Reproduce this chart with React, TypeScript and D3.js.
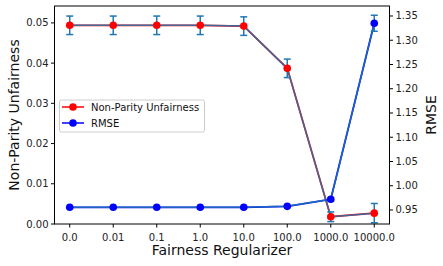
import * as d3 from "d3";

const categories = ["0.0", "0.01", "0.1", "1.0", "10.0", "100.0", "1000.0", "10000.0"];
const unfairness = [0.0494, 0.0494, 0.0494, 0.0494, 0.0492, 0.0387, 0.0018, 0.0027];
const unfairnessErr = [0.0023, 0.0023, 0.0023, 0.0023, 0.0023, 0.0023, 0.0012, 0.0024];
const rmse = [0.9555, 0.9555, 0.9555, 0.9555, 0.9555, 0.9575, 0.972, 1.335];
const rmseErr = [0.0005, 0.0005, 0.0005, 0.0005, 0.0005, 0.0008, 0.003, 0.0165];
const leftTicks = [0, 0.01, 0.02, 0.03, 0.04, 0.05];
const rightTicks = [0.95, 1.0, 1.05, 1.1, 1.15, 1.2, 1.25, 1.3, 1.35];

const C0 = "#1f77b4";
const font = "DejaVu Sans, sans-serif";

export default function App() {
  const width = 443;
  const height = 266;
  const m = { left: 54.5, right: 389.5, top: 6, bottom: 224 };

  const x = d3.scaleLinear().domain([-0.35, 7.35]).range([m.left, m.right]);
  const yL = d3.scaleLinear().domain([0, 0.0542]).range([m.bottom, m.top]);
  const yR = d3.scaleLinear().domain([0.9211, 1.3706]).range([m.bottom, m.top]);

  const line = (ys: number[], y: d3.ScaleLinear<number, number>) =>
    d3.line<number>().x((_, i) => x(i)).y((d) => y(d))(ys) || "";

  const series = (
    ys: number[],
    errs: number[],
    y: d3.ScaleLinear<number, number>,
    color: string
  ) => (
    <g>
      <path d={line(ys, y)} fill="none" stroke={color} strokeWidth={1.8} />
      <path d={line(ys, y)} fill="none" stroke={C0} strokeWidth={1.5} opacity={0.85} />
      {ys.map((v, i) => {
        const cx = x(i);
        const t = y(v + errs[i]);
        const b = y(v - errs[i]);
        return (
          <g key={i} stroke={C0} strokeWidth={1.5}>
            <line x1={cx} x2={cx} y1={t} y2={b} />
            <line x1={cx - 3.5} x2={cx + 3.5} y1={t} y2={t} />
            <line x1={cx - 3.5} x2={cx + 3.5} y1={b} y2={b} />
          </g>
        );
      })}
      {ys.map((v, i) => (
        <circle key={i} cx={x(i)} cy={y(v)} r={3.8} fill={color} />
      ))}
    </g>
  );

  return (
    <svg width={width} height={height} style={{ position: "absolute", left: 0, top: 0 }}>
      <rect width={width} height={height} fill="white" />
      {series(unfairness, unfairnessErr, yL, "#ff0000")}
      {series(rmse, rmseErr, yR, "#0000ff")}
      <rect
        x={m.left}
        y={m.top}
        width={m.right - m.left}
        height={m.bottom - m.top}
        fill="none"
        stroke="black"
        strokeWidth={1}
      />
      <g fontFamily={font} fontSize={10} fill="#222">
        {categories.map((c, i) => (
          <g key={c}>
            <line x1={x(i)} x2={x(i)} y1={m.bottom} y2={m.bottom + 3.5} stroke="black" />
            <text x={x(i)} y={m.bottom + 16.5} textAnchor="middle">
              {c}
            </text>
          </g>
        ))}
        {leftTicks.map((t) => (
          <g key={t}>
            <line x1={m.left - 3.5} x2={m.left} y1={yL(t)} y2={yL(t)} stroke="black" />
            <text x={m.left - 6} y={yL(t) + 3.5} textAnchor="end">
              {t.toFixed(2)}
            </text>
          </g>
        ))}
        {rightTicks.map((t) => (
          <g key={t}>
            <line x1={m.right} x2={m.right + 3.5} y1={yR(t)} y2={yR(t)} stroke="black" />
            <text x={m.right + 6} y={yR(t) + 3.5} textAnchor="start">
              {t.toFixed(2)}
            </text>
          </g>
        ))}
      </g>
      <g fontFamily={font} fontSize={14} fill="#111">
        <text x={(m.left + m.right) / 2} y={255} textAnchor="middle">
          Fairness Regularizer
        </text>
        <text transform={`translate(18.5,${(m.top + m.bottom) / 2}) rotate(-90)`} textAnchor="middle">
          Non-Parity Unfairness
        </text>
        <text transform={`translate(436,${(m.top + m.bottom) / 2}) rotate(-90)`} textAnchor="middle">
          RMSE
        </text>
      </g>
      <g fontFamily={font} fontSize={10}>
        <rect x={59.5} y={100} width={145} height={32} rx={2} fill="white" fillOpacity={0.8} stroke="#ccc" />
        <line x1={62} x2={84} y1={107} y2={107} stroke="#ff0000" strokeWidth={1.5} />
        <circle cx={73} cy={107} r={3.8} fill="#ff0000" />
        <text x={91} y={110.5} fill="#111">Non-Parity Unfairness</text>
        <line x1={62} x2={84} y1={123} y2={123} stroke="#0000ff" strokeWidth={1.5} />
        <circle cx={73} cy={123} r={3.8} fill="#0000ff" />
        <text x={91} y={126.5} fill="#111">RMSE</text>
      </g>
    </svg>
  );
}
